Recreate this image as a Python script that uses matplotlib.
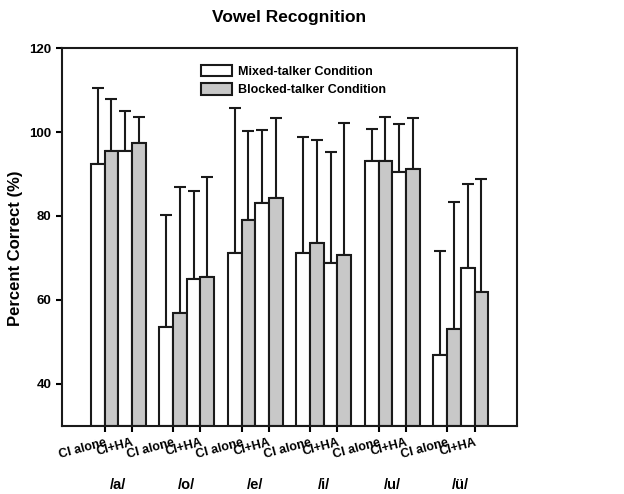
import matplotlib
matplotlib.use("Agg")
import matplotlib.pyplot as plt
import numpy as np
from matplotlib.patches import Patch

plt.rcParams['font.family'] = ['Liberation Sans', 'DejaVu Sans']
plt.rcParams['font.weight'] = 'bold'

vowels = ['/a/', '/o/', '/e/', '/i/', '/u/', '/ü/']
conditions = ['CI alone', 'CI+HA']
# values: [CI alone, CI+HA] per vowel
mixed_mean = [[92.4, 95.5], [53.5, 65.0], [71.2, 83.0], [71.3, 68.7], [93.2, 90.5], [46.8, 67.5]]
mixed_top = [[110.4, 105.0], [80.3, 86.0], [105.6, 100.5], [98.7, 95.3], [100.7, 102.0], [71.6, 87.6]]
blocked_mean = [[95.5, 97.5], [57.0, 65.5], [79.0, 84.3], [73.6, 70.6], [93.2, 91.2], [53.0, 61.9]]
blocked_top = [[107.9, 103.5], [87.0, 89.3], [100.3, 103.4], [98.1, 102.1], [103.5, 103.4], [83.4, 88.7]]

fig = plt.figure(figsize=(6.24, 4.94), dpi=100)
ax = fig.add_axes([0.0994, 0.1377, 0.7291, 0.7651])

w = 1.0
start = 2.1
gap = 5.0
ymin = 30
tick_pos = []
tick_lab = []
group_centers = []
for i, v in enumerate(vowels):
    g0 = start + gap * i
    for j in range(2):
        xw = g0 + 2 * j * w
        xg = xw + w
        mm = mixed_mean[i][j]
        bm = blocked_mean[i][j]
        ax.bar(xw, mm - ymin, bottom=ymin, width=w, align='edge', color='white',
               edgecolor='#1a1a1a', linewidth=1.5, zorder=2)
        ax.bar(xg, bm - ymin, bottom=ymin, width=w, align='edge', color='#c8c8c8',
               edgecolor='#1a1a1a', linewidth=1.5, zorder=2)
        ax.errorbar(xw + w / 2, mm, yerr=[[0], [mixed_top[i][j] - mm]], fmt='none',
                    ecolor='#1a1a1a', elinewidth=1.5, capsize=4, capthick=1.5, zorder=1)
        ax.errorbar(xg + w / 2, bm, yerr=[[0], [blocked_top[i][j] - bm]], fmt='none',
                    ecolor='#1a1a1a', elinewidth=1.5, capsize=4, capthick=1.5, zorder=1)
        tick_pos.append(xg)
        tick_lab.append(conditions[j])
    group_centers.append(g0 + 2 * w)

ax.set_xlim(0, 33.2)
ax.set_ylim(30, 120)
ax.set_yticks([40, 60, 80, 100, 120])
ax.set_xticks(tick_pos)
ax.set_xticklabels(tick_lab, rotation=15, ha='right', rotation_mode='anchor', fontsize=9, fontweight='bold')
ax.tick_params(axis='y', labelsize=9.5, width=1.5, length=4)
ax.tick_params(axis='x', width=1.5, length=4)
for lbl in ax.get_yticklabels():
    lbl.set_fontweight('bold')
for s in ax.spines.values():
    s.set_linewidth(1.5)
    s.set_color('#1a1a1a')

for c, v in zip(group_centers, vowels):
    ax.text(c, -0.155, v, transform=ax.get_xaxis_transform(), ha='center', va='center',
            fontsize=10.5, fontweight='bold')

ax.set_ylabel('Percent Correct (%)', fontsize=12, fontweight='bold')
ax.yaxis.set_label_coords(-0.085, 0.47)
ax.set_title('Vowel Recognition', fontsize=12.5, fontweight='bold', pad=19)

handles = [Patch(facecolor='white', edgecolor='#1a1a1a', linewidth=1.5),
           Patch(facecolor='#c8c8c8', edgecolor='#1a1a1a', linewidth=1.5)]
leg = ax.legend(handles, ['Mixed-talker Condition', 'Blocked-talker Condition'],
                loc='upper left', bbox_to_anchor=(0.28, 0.985), frameon=False,
                prop={'size': 9, 'weight': 'bold'}, handlelength=2.5, handleheight=1.0,
                labelspacing=0.45, handletextpad=0.5)

fig.savefig('out.png', dpi=100)
